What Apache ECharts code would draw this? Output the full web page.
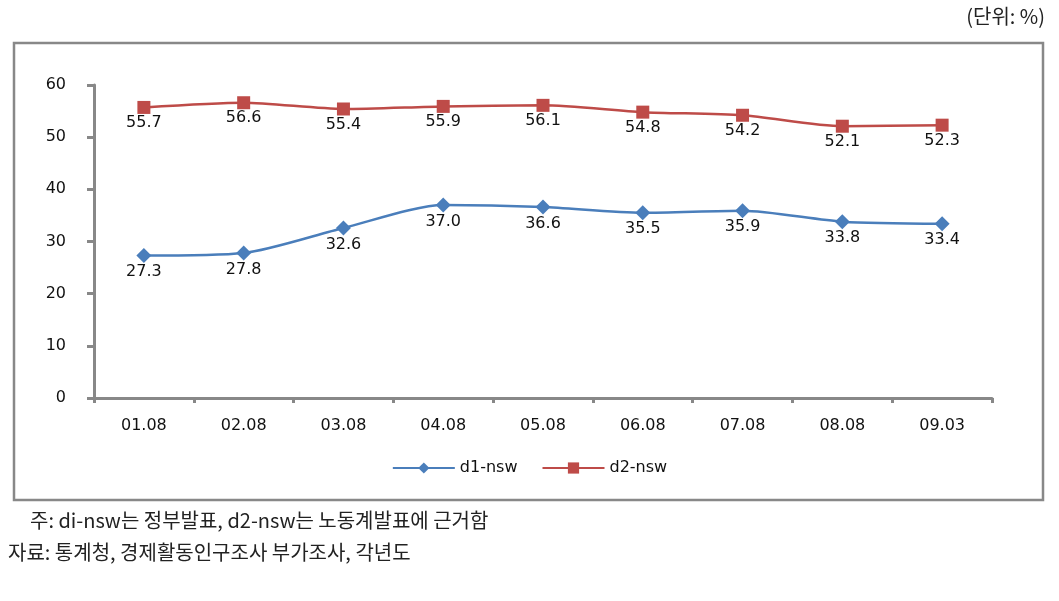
<!DOCTYPE html>
<html><head><meta charset="utf-8">
<script src="https://cdn.jsdelivr.net/npm/echarts@6/dist/echarts.min.js"></script>
<style>html,body{margin:0;padding:0;background:#fff}#c{width:1059px;height:601px}</style>
</head><body><div id="c"></div>
<script>
const categories = ['01.08','02.08','03.08','04.08','05.08','06.08','07.08','08.08','09.03'];
const d1 = [27.3, 27.8, 32.6, 37.0, 36.6, 35.5, 35.9, 33.8, 33.4];
const d2 = [55.7, 56.6, 55.4, 55.9, 56.1, 54.8, 54.2, 52.1, 52.3];
const seriesNames = ['d1-nsw','d2-nsw'];
const unitLabel = '(단위: %)';
const note1 = '주: di-nsw는 정부발표, d2-nsw는 노동계발표에 근거함';
const note2 = '자료: 통계청, 경제활동인구조사 부가조사, 각년도';

const chart = echarts.init(document.getElementById('c'));
const lblFont = '"DejaVu Sans", Verdana, sans-serif';
const label = {show:true, position:'bottom', distance:1, color:'#111', fontFamily:lblFont, fontSize:16,
  formatter: p => p.value.toFixed(1)};
chart.setOption({
  animation:false,
  grid:{left:94, right:67, top:85, bottom:203},
  legend:{bottom:120, left:'center', itemWidth:62, itemHeight:14, itemGap:24,
    textStyle:{fontFamily:lblFont, fontSize:16, color:'#111'}, data:seriesNames},
  xAxis:{type:'category', data:categories, boundaryGap:true,
    axisLine:{lineStyle:{color:'#888', width:3}},
    axisTick:{show:true, interval:0, length:5, lineStyle:{color:'#888', width:3}},
    axisLabel:{color:'#111', fontFamily:lblFont, fontSize:16, margin:20}},
  yAxis:{type:'value', min:0, max:60, interval:10,
    axisLine:{show:true, lineStyle:{color:'#888', width:3}},
    axisTick:{show:true, length:7, lineStyle:{color:'#888', width:3}},
    splitLine:{show:false},
    axisLabel:{color:'#111', fontFamily:lblFont, fontSize:16, margin:28}},
  series:[
    {name:seriesNames[0], type:'line', data:d1, smooth:0.25, symbol:'diamond', symbolSize:15,
      itemStyle:{color:'#4a7ebb'}, lineStyle:{color:'#4a7ebb', width:2.5}, label:label},
    {name:seriesNames[1], type:'line', data:d2, smooth:0.25, symbol:'rect', symbolSize:13,
      itemStyle:{color:'#be4b48'}, lineStyle:{color:'#be4b48', width:2.5}, label:label}
  ],
  graphic:[
    {type:'rect', shape:{x:14, y:43, width:1029, height:457}, style:{fill:'none', stroke:'#888', lineWidth:2.5}, silent:true},
    {type:'text', right:14, top:6, style:{text:unitLabel, font:'20px "Noto Sans CJK KR"', fill:'#222'}},
    {type:'text', left:30, top:510, style:{text:note1, font:'20px "Noto Sans CJK KR"', fill:'#222'}},
    {type:'text', left:8, top:542, style:{text:note2, font:'20px "Noto Sans CJK KR"', fill:'#222'}}
  ]
});
</script></body></html>
